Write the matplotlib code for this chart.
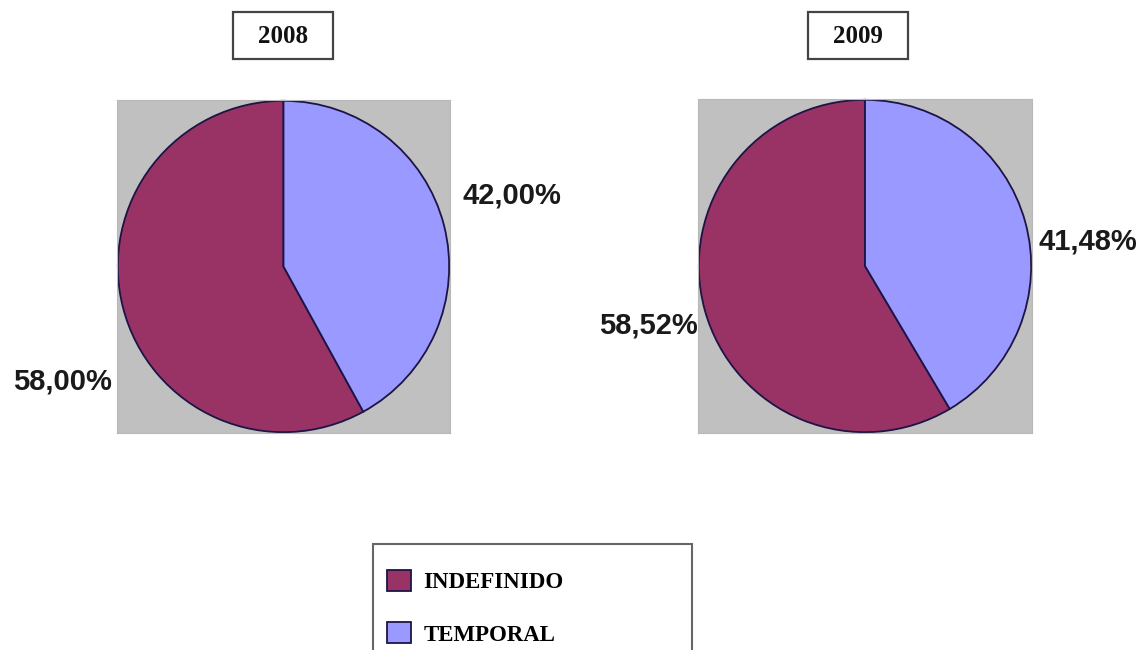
import matplotlib
matplotlib.use("Agg")
import matplotlib.pyplot as plt
from matplotlib.patches import Rectangle
from matplotlib.font_manager import FontProperties

# ---- data ----
years = ["2008", "2009"]
categories = ["INDEFINIDO", "TEMPORAL"]
values_2008 = [58.00, 42.00]
values_2009 = [58.52, 41.48]
series = [values_2008, values_2009]

# ---- layout (pixels) ----
W, H = 1146, 650
fig = plt.figure(figsize=(W / 100, H / 100), dpi=100)


def fx(px):
    return px / W


def fy(py):
    return 1 - py / H


colors = ["#993366", "#9999FF"]
edge = "#1c1445"
gray = "#C0C0C0"

ax_boxes = [(117, 100, 450, 433), (698, 99, 1032, 433)]
title_boxes = [(233, 12, 333, 59), (808, 12, 908, 59)]
label_pos = [[(62, 382), (512, 195)], [(648, 326), (1088, 241)]]

pct_font = FontProperties(family="Liberation Sans", weight="bold", size=21)
serif_title = FontProperties(family="Liberation Serif", weight="bold", size=18)
serif_leg = FontProperties(family="Liberation Serif", weight="bold", size=16.5)

wedges_ref = None
for i, (yr, vals) in enumerate(zip(years, series)):
    x0, y0, x1, y1 = ax_boxes[i]
    ax = fig.add_axes([fx(x0), fy(y1), (x1 - x0) / W, (y1 - y0) / H])
    wedges, _ = ax.pie(vals, colors=colors, startangle=90, counterclock=True,
                       radius=1.0, frame=True,
                       wedgeprops=dict(edgecolor=edge, linewidth=1.3))
    ax.set_xlim(-1.005, 1.005)
    ax.set_ylim(-1.005, 1.005)
    ax.set_facecolor(gray)
    ax.set_xticks([])
    ax.set_yticks([])
    for s in ax.spines.values():
        s.set_color("#b8b8b8")
        s.set_linewidth(0.8)
    if wedges_ref is None:
        wedges_ref = wedges

    # percentage labels
    for v, (px, py) in zip(vals, label_pos[i]):
        txt = f"{v:.2f}%".replace(".", ",")
        fig.text(fx(px), fy(py), txt, ha="center", va="center",
                 fontproperties=pct_font, color="#1a1a1a")

    # title box
    bx0, by0, bx1, by1 = title_boxes[i]
    fig.patches.append(Rectangle((fx(bx0), fy(by1)), (bx1 - bx0) / W, (by1 - by0) / H,
                                 transform=fig.transFigure, fill=True, facecolor="white",
                                 edgecolor="#444444", linewidth=1.6))
    fig.text(fx((bx0 + bx1) / 2), fy((by0 + by1) / 2 + 1), yr, ha="center", va="center",
             fontproperties=serif_title, color="#111111")

# legend frame (cut off at bottom like the reference)
fig.patches.append(Rectangle((fx(373), fy(665)), (692 - 373) / W, (665 - 544) / H,
                             transform=fig.transFigure, fill=False,
                             edgecolor="#666666", linewidth=1.5))

fig.legend(handles=wedges_ref, labels=categories, loc="upper left",
           bbox_to_anchor=(fx(387), fy(570)), frameon=False,
           borderpad=0, borderaxespad=0, handlelength=1.05, handleheight=1.05,
           handletextpad=0.55, labelspacing=1.25, prop=serif_leg)

fig.savefig("out.png", dpi=100, facecolor="white")
